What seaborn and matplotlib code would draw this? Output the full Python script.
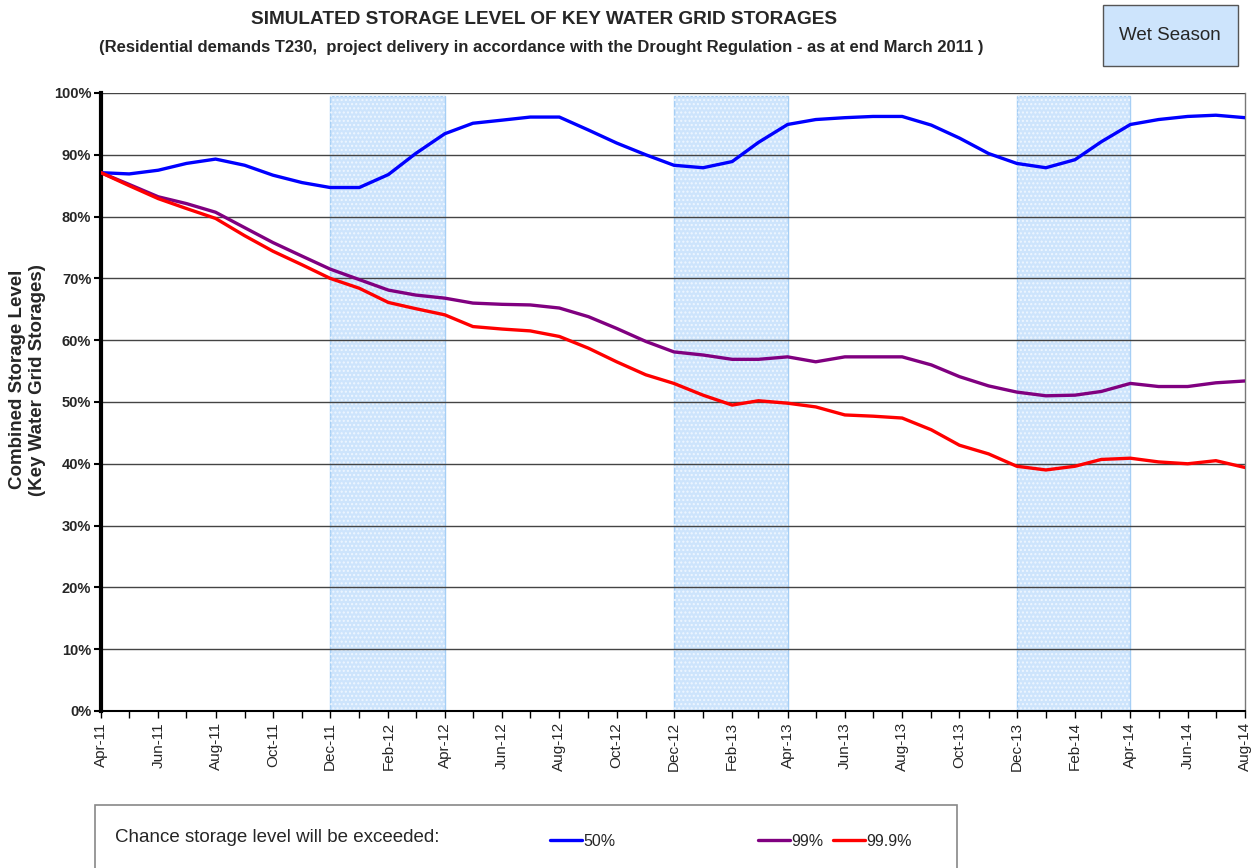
import matplotlib
matplotlib.use("Agg")
import matplotlib.pyplot as plt
import matplotlib.dates as mdates
from matplotlib.patches import Rectangle
from matplotlib.lines import Line2D
import seaborn as sns
import numpy as np
import pandas as pd

# monthly simulation points, Apr-11 .. Aug-14
months = pd.date_range("2011-04-01", "2014-08-01", freq="MS")

# combined storage level (%) for each exceedance probability
level_50 = [87.1, 86.9, 87.5, 88.6, 89.3, 88.3, 86.7, 85.5, 84.7, 84.7,
            86.8, 90.2, 93.4, 95.1, 95.6, 96.1, 96.1, 94.0, 91.9, 90.0,
            88.3, 87.9, 88.9, 92.0, 94.9, 95.7, 96.0, 96.2, 96.2, 94.8,
            92.7, 90.2, 88.6, 87.9, 89.2, 92.1, 94.9, 95.7, 96.2, 96.4, 96.0]
level_99 = [87.1, 85.2, 83.2, 82.1, 80.7, 78.2, 75.8, 73.6, 71.5, 69.8,
            68.1, 67.3, 66.8, 66.0, 65.8, 65.7, 65.2, 63.8, 61.9, 59.8,
            58.1, 57.6, 56.9, 56.9, 57.3, 56.5, 57.3, 57.3, 57.3, 56.0,
            54.1, 52.6, 51.6, 51.0, 51.1, 51.7, 53.0, 52.5, 52.5, 53.1, 53.4]
level_999 = [87.1, 85.0, 82.9, 81.3, 79.7, 76.9, 74.4, 72.2, 70.0, 68.4,
             66.1, 65.1, 64.1, 62.2, 61.8, 61.5, 60.6, 58.7, 56.5, 54.4,
             53.0, 51.1, 49.5, 50.2, 49.8, 49.2, 47.9, 47.7, 47.4, 45.5,
             43.0, 41.6, 39.6, 39.0, 39.6, 40.7, 40.9, 40.3, 40.0, 40.5, 39.4]

series_labels = ["50%", "99%", "99.9%"]
series_colors = {"50%": "#0000ff", "99%": "#800080", "99.9%": "#ff0000"}

# wet season bands (Dec -> Apr)
wet_start = ["2011-12-01", "2012-12-01", "2013-12-01"]
wet_end = ["2012-04-01", "2013-04-01", "2014-04-01"]

df = pd.concat([
    pd.DataFrame({"month": months, "level": vals, "chance": lab})
    for vals, lab in zip([level_50, level_99, level_999], series_labels)
], ignore_index=True)

sns.set_style("white")
plt.rcParams["font.family"] = ["Liberation Sans", "DejaVu Sans"]

fig = plt.figure(figsize=(12.53, 8.68), dpi=100)
ax = fig.add_axes([0.0806, 0.1809, 0.913, 0.712])

for s, e in zip(wet_start, wet_end):
    ax.axvspan(pd.Timestamp(s), pd.Timestamp(e), ymax=0.995, facecolor="#cde4fc",
               edgecolor="#a6cff5", lw=1, zorder=1)
    ax.axvspan(pd.Timestamp(s), pd.Timestamp(e), ymax=0.995, facecolor="none",
               edgecolor="#eef6ff", hatch="....", lw=0, zorder=1.1)

sns.lineplot(data=df, x="month", y="level", hue="chance", palette=series_colors,
             linewidth=2.4, legend=False, ax=ax, zorder=3)

ax.set_xlim(months[0], months[-1])
ax.set_ylim(0, 100)
ax.set_yticks(np.arange(0, 101, 10))
ax.yaxis.set_major_formatter(matplotlib.ticker.FuncFormatter(lambda v, p: f"{v:.0f}%"))
ax.yaxis.grid(True, color="#444444", lw=1)
ax.set_axisbelow("line")

ax.xaxis.set_major_locator(mdates.MonthLocator(bymonth=[2, 4, 6, 8, 10, 12]))
ax.xaxis.set_minor_locator(mdates.MonthLocator())
ax.xaxis.set_major_formatter(mdates.DateFormatter("%b-%y"))
ax.tick_params(axis="x", which="both", direction="out", length=5, width=1,
               color="black", bottom=True, labelsize=11, labelrotation=90, pad=3)
ax.tick_params(axis="y", direction="out", length=5, width=1.5, color="black",
               left=True, labelsize=10.5, pad=2)
for lbl in ax.get_yticklabels():
    lbl.set_fontweight("bold")

ax.spines["left"].set_linewidth(3)
ax.spines["left"].set_color("black")
ax.spines["bottom"].set_linewidth(1.5)
ax.spines["bottom"].set_color("black")
ax.spines["top"].set_visible(False)
ax.spines["right"].set_color("#777777")
ax.spines["right"].set_linewidth(1)

ax.set_xlabel("")
ax.set_ylabel("Combined Storage Level\n(Key Water Grid Storages)", fontsize=13.5,
              fontweight="bold")
ax.yaxis.set_label_coords(-0.048, 0.536)

fig.text(0.434, 0.977, "SIMULATED STORAGE LEVEL OF KEY WATER GRID STORAGES",
         ha="center", va="center", fontsize=13.7, fontweight="bold")
fig.text(0.432, 0.945, "(Residential demands T230,  project delivery in accordance with "
         "the Drought Regulation - as at end March 2011 )",
         ha="center", va="center", fontsize=12, fontweight="bold")

# wet season key box
fig.add_artist(Rectangle((0.880, 0.924), 0.108, 0.070, transform=fig.transFigure,
                         facecolor="#cde4fc", edgecolor="#555555", lw=1))
fig.text(0.934, 0.959, "Wet Season", ha="center", va="center", fontsize=13.5)

# legend box along the bottom
fig.add_artist(Rectangle((0.0758, -0.02), 0.688, 0.0926, transform=fig.transFigure,
                         facecolor="white", edgecolor="#888888", lw=1.2))
fig.text(0.092, 0.035, "Chance storage level will be exceeded:", ha="left",
         va="center", fontsize=13.5)
legend_x = [0.439, 0.605, 0.665]
for lab, x0 in zip(series_labels, legend_x):
    fig.add_artist(Line2D([x0, x0 + 0.0255], [0.032, 0.032], transform=fig.transFigure,
                          color=series_colors[lab], lw=2.4))
    fig.text(x0 + 0.0265, 0.031, lab, ha="left", va="center", fontsize=11.5)

fig.savefig("out.png", dpi=100)
